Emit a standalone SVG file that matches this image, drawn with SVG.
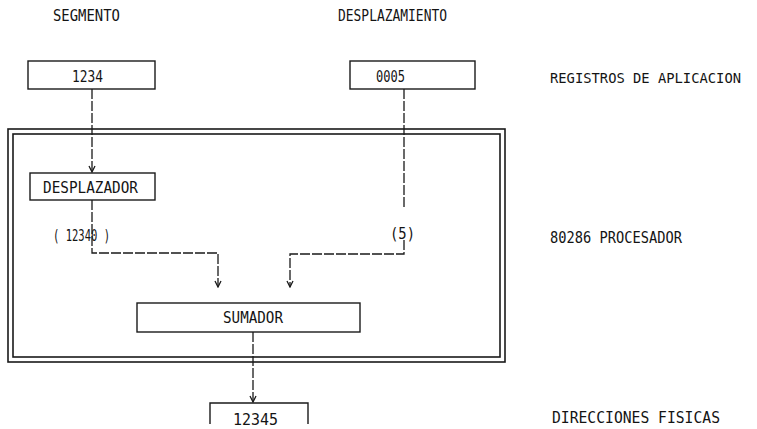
<svg xmlns="http://www.w3.org/2000/svg" width="757" height="429" viewBox="0 0 757 429">
<style>
.bg{fill:#ffffff}
.box{fill:none;stroke:#1a1a1a;stroke-width:1.4}
.frame{fill:none;stroke:#1a1a1a;stroke-width:1.6}
.conn{fill:none;stroke:#1a1a1a;stroke-width:1.3;stroke-dasharray:10 2}
.t{font-family:"DejaVu Sans Mono","Liberation Mono",monospace;font-size:15px;fill:#141414}
.s{font-size:14px}
</style>
<defs>
<marker id="arr" markerUnits="userSpaceOnUse" markerWidth="8" markerHeight="8" viewBox="0 0 8 8" refX="7" refY="4" orient="auto">
<path d="M1,1 L7,4 L1,7" fill="none" stroke="#1a1a1a" stroke-width="1.3"/>
</marker>
</defs>
<rect class="bg" x="0" y="0" width="757" height="429"/>

<g id="procesador">
<rect class="frame" x="8" y="129" width="497" height="233"/>
<rect class="frame" x="13" y="134" width="487" height="223"/>
</g>

<g id="connectors">
<path class="conn" d="M92 89 V172" marker-end="url(#arr)"/>
<path class="conn" d="M92 200 V253 H218 V287" marker-end="url(#arr)"/>
<path class="conn" d="M404 89 V207"/>
<path class="conn" d="M404 240 V254 H290 V287" marker-end="url(#arr)"/>
<path class="conn" d="M253 332 V402" marker-end="url(#arr)"/>
</g>

<g id="label-segmento">
<text class="t" x="53" y="21" textLength="67" lengthAdjust="spacingAndGlyphs">SEGMENTO</text>
</g>
<g id="label-desplazamiento">
<text class="t" x="338" y="21" textLength="109" lengthAdjust="spacingAndGlyphs">DESPLAZAMIENTO</text>
</g>

<g id="reg-1234">
<rect class="box" x="28" y="61" width="127" height="28"/>
<text class="t" x="72" y="82" textLength="31" lengthAdjust="spacingAndGlyphs">1234</text>
</g>
<g id="reg-0005">
<rect class="box" x="350" y="61" width="125" height="28"/>
<text class="t" x="376" y="82" textLength="29" lengthAdjust="spacingAndGlyphs">0005</text>
</g>
<g id="label-registros">
<text class="t s" x="550" y="83" textLength="191" lengthAdjust="spacingAndGlyphs">REGISTROS DE APLICACION</text>
</g>

<g id="desplazador">
<rect class="box" x="30" y="173" width="125" height="27"/>
<text class="t" x="43" y="193" textLength="95" lengthAdjust="spacingAndGlyphs">DESPLAZADOR</text>
</g>

<g id="label-12340">
<text class="t" x="53" y="241" textLength="57" lengthAdjust="spacingAndGlyphs">( 12340 )</text>
</g>
<g id="label-5">
<text class="t" x="390" y="239" textLength="25" lengthAdjust="spacingAndGlyphs">(5)</text>
</g>
<g id="label-procesador">
<text class="t" x="550" y="243" textLength="132" lengthAdjust="spacingAndGlyphs">80286 PROCESADOR</text>
</g>

<g id="sumador">
<rect class="box" x="137" y="303" width="223" height="29"/>
<text class="t" x="223" y="323" textLength="60" lengthAdjust="spacingAndGlyphs">SUMADOR</text>
</g>

<g id="resultado">
<path class="box" d="M210 424 V403 H308 V424"/>
<text class="t" x="233" y="425" textLength="45" lengthAdjust="spacingAndGlyphs">12345</text>
</g>
<g id="label-direcciones">
<text class="t" x="552" y="423" textLength="168" lengthAdjust="spacingAndGlyphs">DIRECCIONES FISICAS</text>
</g>
</svg>
